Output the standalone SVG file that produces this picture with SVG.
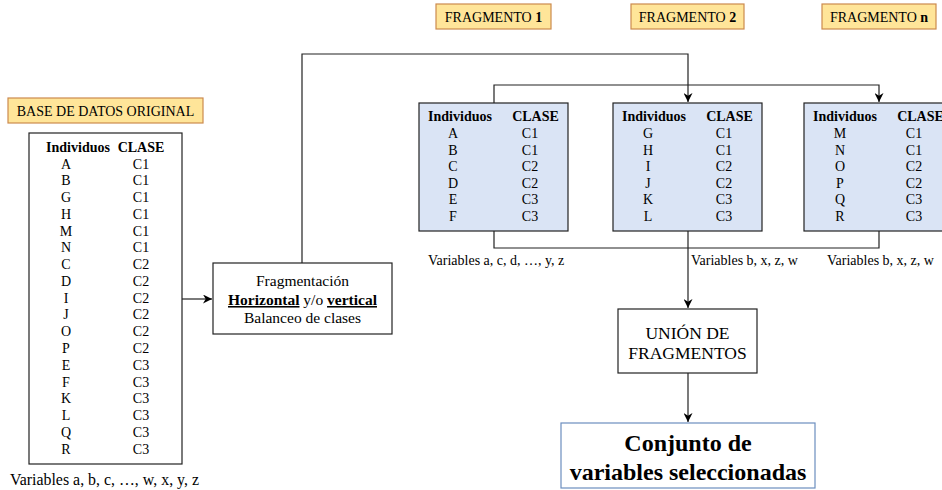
<svg xmlns="http://www.w3.org/2000/svg" width="942" height="490" viewBox="0 0 942 490">
<defs>
<marker id="arr" viewBox="0 0 10 10" refX="10" refY="5" markerWidth="9" markerHeight="9" markerUnits="userSpaceOnUse" orient="auto">
<path d="M0,0 L10,5 L0,10 L3,5 z" fill="#000"/>
</marker>
<style>
text{font-family:"Liberation Serif","Times New Roman",serif;fill:#000}
.t14{font-size:14px}
.b{font-weight:bold}
.m{text-anchor:middle}
.tag{fill:#ffe599;stroke:#cc8a4e;stroke-width:1.2}
.frag{fill:#dae4f5;stroke:#222;stroke-width:1.2}
.box{fill:#fff;stroke:#222;stroke-width:1.2}
.line{fill:none;stroke:#222;stroke-width:1.2}
</style>
</defs>
<rect width="942" height="490" fill="#fff"/>

<g id="connectors">
<path class="line" d="M182,299 H212" marker-end="url(#arr)"/>
<path class="line" d="M302,263 V54 H688 V102" marker-end="url(#arr)"/>
<path class="line" d="M494,103 V85 H879 V102" marker-end="url(#arr)"/>
<path class="line" d="M494,231 V248 H879 V231"/>
<path class="line" d="M688,231 V308" marker-end="url(#arr)"/>
<path class="line" d="M688,373 V422" marker-end="url(#arr)"/>
</g>

<g id="label-base">
<rect class="tag" x="8" y="98" width="195" height="25"/>
<text class="t14 m" x="105.5" y="116">BASE DE DATOS ORIGINAL</text>
</g>

<g id="base">
<rect class="box" x="29" y="133" width="153" height="331"/>
<g class="t14">
<text class="b m" x="78" y="152">Individuos</text>
<text class="b m" x="141" y="152">CLASE</text>
<text class="m" x="66" y="168.6">A</text><text class="m" x="141" y="168.6">C1</text>
<text class="m" x="66" y="185.4">B</text><text class="m" x="141" y="185.4">C1</text>
<text class="m" x="66" y="202.1">G</text><text class="m" x="141" y="202.1">C1</text>
<text class="m" x="66" y="218.9">H</text><text class="m" x="141" y="218.9">C1</text>
<text class="m" x="66" y="235.6">M</text><text class="m" x="141" y="235.6">C1</text>
<text class="m" x="66" y="252.4">N</text><text class="m" x="141" y="252.4">C1</text>
<text class="m" x="66" y="269.2">C</text><text class="m" x="141" y="269.2">C2</text>
<text class="m" x="66" y="285.9">D</text><text class="m" x="141" y="285.9">C2</text>
<text class="m" x="66" y="302.7">I</text><text class="m" x="141" y="302.7">C2</text>
<text class="m" x="66" y="319.4">J</text><text class="m" x="141" y="319.4">C2</text>
<text class="m" x="66" y="336.2">O</text><text class="m" x="141" y="336.2">C2</text>
<text class="m" x="66" y="353.0">P</text><text class="m" x="141" y="353.0">C2</text>
<text class="m" x="66" y="369.7">E</text><text class="m" x="141" y="369.7">C3</text>
<text class="m" x="66" y="386.5">F</text><text class="m" x="141" y="386.5">C3</text>
<text class="m" x="66" y="403.2">K</text><text class="m" x="141" y="403.2">C3</text>
<text class="m" x="66" y="420.0">L</text><text class="m" x="141" y="420.0">C3</text>
<text class="m" x="66" y="436.8">Q</text><text class="m" x="141" y="436.8">C3</text>
<text class="m" x="66" y="453.5">R</text><text class="m" x="141" y="453.5">C3</text>
</g>
<text class="m" x="104.5" y="485" style="font-size:15.9px">Variables a, b, c, …, w, x, y, z</text>
</g>

<g id="fragmentacion">
<rect class="box" x="213" y="263" width="179" height="71"/>
<g style="font-size:15.5px">
<text class="m" x="302.5" y="286">Fragmentación</text>
<text class="m" x="302.5" y="305"><tspan class="b" text-decoration="underline">Horizontal</tspan> y/o <tspan class="b" text-decoration="underline">vertical</tspan></text>
<text class="m" x="302.5" y="323">Balanceo de clases</text>
</g>
</g>

<g id="label-f1">
<rect class="tag" x="436" y="4" width="115" height="25"/>
<text class="t14 m" x="493.5" y="22">FRAGMENTO <tspan class="b">1</tspan></text>
</g>
<g id="label-f2">
<rect class="tag" x="631" y="4" width="113" height="25"/>
<text class="t14 m" x="687.5" y="22">FRAGMENTO <tspan class="b">2</tspan></text>
</g>
<g id="label-fn">
<rect class="tag" x="822" y="4" width="114" height="25"/>
<text class="t14 m" x="879" y="22">FRAGMENTO <tspan class="b">n</tspan></text>
</g>

<g id="fragmento1">
<rect class="frag" x="419" y="103" width="149" height="128"/>
<g class="t14">
<text class="b m" x="460" y="121">Individuos</text>
<text class="b m" x="535.5" y="121">CLASE</text>
<text class="m" x="453" y="138">A</text><text class="m" x="530" y="138">C1</text>
<text class="m" x="453" y="154.6">B</text><text class="m" x="530" y="154.6">C1</text>
<text class="m" x="453" y="171.2">C</text><text class="m" x="530" y="171.2">C2</text>
<text class="m" x="453" y="187.8">D</text><text class="m" x="530" y="187.8">C2</text>
<text class="m" x="453" y="204.4">E</text><text class="m" x="530" y="204.4">C3</text>
<text class="m" x="453" y="221">F</text><text class="m" x="530" y="221">C3</text>
</g>
<text class="t14" x="428" y="265">Variables a, c, d, …, y, z</text>
</g>

<g id="fragmento2">
<rect class="frag" x="613" y="103" width="149" height="128"/>
<g class="t14">
<text class="b m" x="654" y="121">Individuos</text>
<text class="b m" x="729.5" y="121">CLASE</text>
<text class="m" x="648" y="138">G</text><text class="m" x="724" y="138">C1</text>
<text class="m" x="648" y="154.6">H</text><text class="m" x="724" y="154.6">C1</text>
<text class="m" x="648" y="171.2">I</text><text class="m" x="724" y="171.2">C2</text>
<text class="m" x="648" y="187.8">J</text><text class="m" x="724" y="187.8">C2</text>
<text class="m" x="648" y="204.4">K</text><text class="m" x="724" y="204.4">C3</text>
<text class="m" x="648" y="221">L</text><text class="m" x="724" y="221">C3</text>
</g>
<text class="t14" x="691" y="265">Variables b, x, z, w</text>
</g>

<g id="fragmenton">
<rect class="frag" x="804" y="103" width="149" height="128"/>
<g class="t14">
<text class="b m" x="845" y="121">Individuos</text>
<text class="b m" x="920.5" y="121">CLASE</text>
<text class="m" x="840" y="138">M</text><text class="m" x="914" y="138">C1</text>
<text class="m" x="840" y="154.6">N</text><text class="m" x="914" y="154.6">C1</text>
<text class="m" x="840" y="171.2">O</text><text class="m" x="914" y="171.2">C2</text>
<text class="m" x="840" y="187.8">P</text><text class="m" x="914" y="187.8">C2</text>
<text class="m" x="840" y="204.4">Q</text><text class="m" x="914" y="204.4">C3</text>
<text class="m" x="840" y="221">R</text><text class="m" x="914" y="221">C3</text>
</g>
<text class="t14" x="827" y="265">Variables b, x, z, w</text>
</g>

<g id="union">
<rect class="box" x="618" y="309" width="139" height="64"/>
<g style="font-size:17.5px">
<text class="m" x="687.5" y="339">UNIÓN DE</text>
<text class="m" x="687.5" y="359">FRAGMENTOS</text>
</g>
</g>

<g id="conjunto">
<rect x="561" y="423" width="254" height="65" fill="#fff" stroke="#6c8ebf" stroke-width="1.2"/>
<g class="b" style="font-size:24px">
<text class="m" x="688" y="451">Conjunto de</text>
<text class="m" x="688" y="480">variables seleccionadas</text>
</g>
</g>
</svg>
